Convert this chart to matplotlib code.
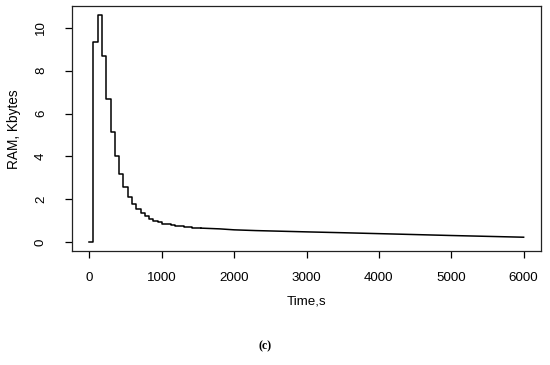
import matplotlib
matplotlib.use("Agg")
import matplotlib.pyplot as plt

# step part of the RAM curve (time of change, value after change)
step_times = [0, 54, 114, 173, 233, 292, 351, 411, 470, 530, 589, 648, 708, 767,
              826, 886, 945, 1005, 1064, 1123, 1183, 1242, 1302, 1361, 1420, 1480, 1540]
step_values = [0, 9.35, 10.6, 8.7, 6.7, 5.13, 4.02, 3.16, 2.55, 2.1, 1.77, 1.53, 1.35, 1.2,
               1.07, 0.97, 0.91, 0.86, 0.82, 0.78, 0.75, 0.73, 0.71, 0.69, 0.67, 0.655, 0.645]
# smooth tail
tail_times = [1540, 1800, 2000, 2300, 3000, 3500, 4200, 5000, 5500, 6000]
tail_values = [0.645, 0.61, 0.565, 0.53, 0.47, 0.43, 0.37, 0.30, 0.26, 0.22]

xticks = [0, 1000, 2000, 3000, 4000, 5000, 6000]
yticks = [0, 2, 4, 6, 8, 10]

plt.rcParams['font.family'] = ['Liberation Sans', 'DejaVu Sans']

fig = plt.figure(figsize=(5.5, 3.65), dpi=100)
ax = fig.add_axes([72/550, 1-251/365, (541-72)/550, (251-6)/365])

ax.plot(step_times, step_values, drawstyle='steps-post', color='black', lw=1.1)
ax.plot(tail_times, tail_values, color='black', lw=1.1)

ax.set_xlim(-240, 6240)
ax.set_ylim(-0.424, 11.024)
ax.set_xticks(xticks)
ax.set_xticklabels([str(t) for t in xticks])
ax.set_yticks(yticks)
ax.set_yticklabels([str(t) for t in yticks], rotation=90, va='center')
ax.tick_params(axis='x', length=5, width=0.9, pad=10, labelsize=9.6)
ax.tick_params(axis='y', length=5, width=0.9, pad=13, labelsize=9.6)
for s in ax.spines.values():
    s.set_linewidth(0.9)
    s.set_color('#222222')

fig.text(ax.get_position().x0 + ax.get_position().width/2, 1-302/365, 'Time,s',
         ha='center', va='center', fontsize=9.6)
fig.text(14/550, 1-129/365, 'RAM, Kbytes', rotation=90, ha='center', va='center', fontsize=9.8)
fig.text(265/550, 1-346/365, '(c)', ha='center', va='center', fontsize=8.5,
         family=['Liberation Serif', 'DejaVu Serif'], fontweight='bold')

fig.savefig('out.png', dpi=100)
